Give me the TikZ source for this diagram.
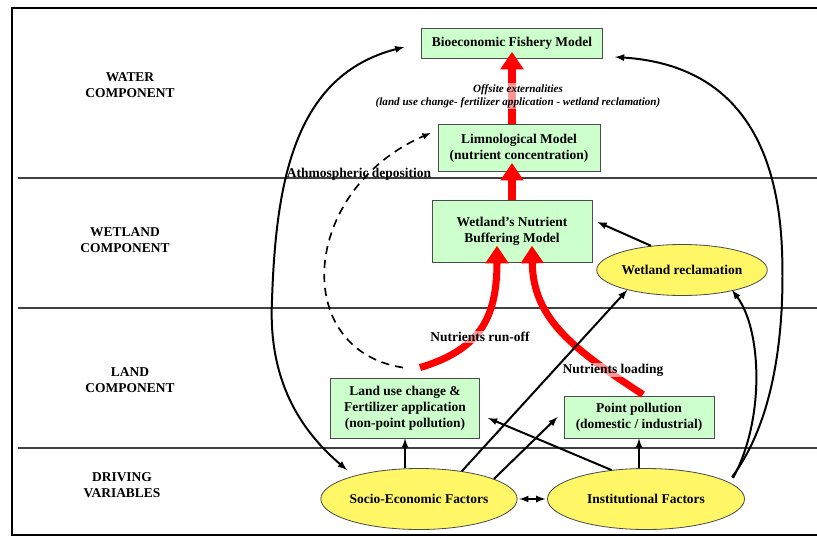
\documentclass[tikz,border=0pt]{standalone}
\usepackage{fontspec}
\setmainfont{Liberation Serif}
\usetikzlibrary{positioning,shapes.geometric,arrows.meta}

\begin{document}
\begin{tikzpicture}[x=0.3mm, y=-0.3mm, -latex, line width=1.7pt,
node distance=2cm and 3cm, on grid,
font=\fontsize{11.5}{13.5}\selectfont\bfseries,
model/.style={rectangle, draw=black!70, line width=0.7pt, fill=green!20,
  align=center, inner sep=0pt},
factor/.style={ellipse, draw=black!70, line width=0.7pt, fill=yellow!60,
  inner sep=0pt},
layer/.style={align=center},
flow/.style={draw=red, line width=6pt, -{Triangle[width=19pt,length=15pt]}},
note/.style={fill=white, fill opacity=0.6, text opacity=1, inner sep=1pt,
  align=center}
]
\useasboundingbox (0,0) rectangle (817,538);

% frame and layers
\draw[-, line width=1.6pt] (817,8) -- (12,8) -- (12,535) -- (817,535);
\foreach \y in {178,308,448}
  \draw[-, line width=0.9pt, black!75] (18,\y) -- (817,\y);

\node[layer] (water) at (130,85) {WATER\\COMPONENT};
\node[layer] (wetland) at (125,240) {WETLAND\\COMPONENT};
\node[layer] (land) at (130,380) {LAND\\COMPONENT};
\node[layer] (driving) at (122,485) {DRIVING\\VARIABLES};

% drivers
\node[factor, minimum width=5.88cm, minimum height=1.83cm] (socio) at (419,499)
  {Socio-Economic Factors};
\node[factor, minimum width=5.91cm, minimum height=1.83cm] (inst)
  [right=6.81cm of socio] {Institutional Factors};

% land, wetland, water
\node[model, minimum width=4.47cm, minimum height=1.8cm] (landuse)
  [above=2.73cm of socio, xshift=-0.42cm]
  {Land use change \&\\Fertilizer application\\(non-point pollution)};
\node[model, minimum width=4.5cm, minimum height=1.26cm] (point)
  [above=2.46cm of inst, xshift=-0.21cm]
  {Point pollution\\(domestic / industrial)};
\node[factor, minimum width=4.59cm, minimum height=1.53cm] (reclam)
  [above=6.87cm of inst, xshift=1.08cm] {Wetland reclamation};
\node[model, minimum width=4.8cm, minimum height=1.86cm] (buffer) at (512,231)
  {Wetland's Nutrient\\Buffering Model};
\node[model, minimum width=4.86cm, minimum height=1.41cm] (limno)
  [above=2.49cm of buffer, xshift=0.21cm]
  {Limnological Model\\(nutrient concentration)};
\node[model, minimum width=5.43cm, minimum height=0.9cm] (fish)
  [above=3.15cm of limno, xshift=-0.21cm] {Bioeconomic Fishery Model};

% nutrient flows
\draw[flow] (buffer.north) -- ([yshift=0.27cm]buffer.north |- limno.south);
\draw[flow] (limno.north -| fish.south) -- ([yshift=0.2cm]fish.south);
\draw[flow] ([xshift=0.45cm,yshift=0.3cm]landuse.north)
  .. controls (478,350) and (497,320) .. ([xshift=-0.45cm,yshift=0.5cm]buffer.south);
\draw[flow] ([xshift=0.12cm,yshift=0.03cm]point.north)
  .. controls (575,350) and (533,320) .. ([xshift=0.6cm,yshift=0.5cm]buffer.south);
\draw[dashed, line width=1.4pt, dash pattern=on 7pt off 5pt]
  ([xshift=-0.06cm,yshift=0.3cm]landuse.north)
  .. controls (290,350) and (300,190) .. ([xshift=-0.21cm,yshift=0.45cm]limno.west);

\node[note, font=\fontsize{9.5}{11}\selectfont\bfseries\itshape] (offsite) at (518,96)
  {Offsite externalities\\(land use change- fertilizer application - wetland reclamation)};
\node[note] (runoff) at (480,337) {Nutrients run-off};
\node[note] (loading) at (613,370) {Nutrients loading};
\node (athmo) at (359,174) {Athmospheric deposition};

% driver links
\draw[latex-latex] ([xshift=-2.16cm,yshift=0.87cm]socio.center)
  .. controls (300,430) and (268,380) .. (272,300)
  .. controls (276,180) and (295,75) .. ([xshift=-0.5cm,yshift=-0.12cm]fish.west);
\draw ([xshift=2.58cm,yshift=0.66cm]inst.center)
  .. controls (775,420) and (785,330) .. (782,250)
  .. controls (778,150) and (740,65) .. ([xshift=0.36cm,yshift=-0.42cm]fish.east);
\draw ([xshift=2.61cm,yshift=0.63cm]inst.center)
  .. controls (765,420) and (762,330) .. ([xshift=1.5cm,yshift=-0.6cm]reclam.center);
\draw (socio.north -| landuse.south) -- (landuse.south);
\draw (inst.north -| point.south) -- (point.south);
\draw (socio.33) -- (reclam.200);
\draw (socio.15) -- ([xshift=-0.18cm]point.west);
\draw (inst.140) -- ([xshift=0.24cm,yshift=-0.3cm]landuse.east);
\draw[latex-latex] ([xshift=0.05cm]socio.east) -- ([xshift=-0.05cm]inst.west);
\draw (reclam.142) -- ([xshift=0.15cm,yshift=0.27cm]buffer.east);
\end{tikzpicture}
\end{document}
